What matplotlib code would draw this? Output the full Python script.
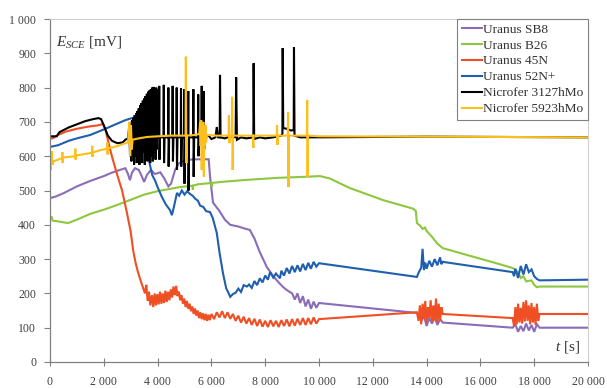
import matplotlib
matplotlib.use("Agg")
import matplotlib.pyplot as plt

plt.rcParams['mathtext.fontset'] = 'custom'
plt.rcParams['mathtext.rm'] = 'Liberation Serif'
plt.rcParams['mathtext.it'] = 'Liberation Serif:italic'
plt.rcParams['font.family'] = ['Liberation Serif', 'DejaVu Serif']

# ---------------- data ----------------
sb8_t = [0, 200, 500, 1000, 1500, 2000, 2300, 2600, 2800, 2900, 2970, 3050, 3160, 3300, 3420, 3500,
         3600, 3750, 3900, 4100, 4250, 4400, 4500, 4650, 4800, 5000, 5200, 5500, 5900, 5950, 6060,
         6300, 6500, 6700, 7000, 7200, 7430, 7600, 7800, 8060, 8300, 8500, 8660, 8800, 9000, 9100,
         9200, 9300, 9400, 9500, 9600, 9700, 9800, 9900, 10000, 13640, 13700, 13800, 13900, 14000,
         14100, 14200, 14300, 14400, 14500, 14600, 17200, 17300, 17400, 17500, 17600, 17700, 17800,
         17900, 18000, 18100, 18200, 20000]
sb8_v = [478, 482, 492, 512, 528, 542, 552, 560, 565, 548, 530, 552, 565, 560, 540, 525,
         545, 560, 548, 553, 535, 512, 520, 560, 580, 588, 590, 591, 591, 540, 465,
         440, 415, 400, 395, 390, 385, 360, 320, 277, 250, 232, 219, 210, 200, 182,
         200, 172, 192, 162, 182, 155, 176, 158, 172, 143, 140, 120, 135, 105,
         128, 112, 130, 108, 125, 115, 100, 110, 88, 105, 90, 112, 92,
         108, 88, 110, 100, 100]

b26_t = [0, 50, 100, 300, 670, 1000, 1500, 2040, 2500, 2970, 3500, 4000, 4830, 5300, 5310, 5320,
         5500, 6000, 6010, 6020, 6500, 7500, 8500, 9500, 10040, 10400, 11150, 12380, 13500, 13600,
         13640, 13750, 13850, 13940, 14000, 14200, 14400, 14600, 15500, 16500, 17200, 17400, 17500,
         17600, 17700, 17900, 18000, 18100, 18200, 20000]
b26_v = [415, 425, 412, 410, 405, 415, 432, 445, 458, 472, 488, 498, 510, 514, 502, 514,
         518, 522, 510, 522, 526, 532, 537, 540, 542, 535, 507, 472, 447, 440,
         405, 398, 388, 392, 382, 365, 345, 332, 312, 290, 274, 262, 245,
         250, 235, 238, 225, 218, 220, 220]

n45_t = [0, 100, 300, 600, 1000, 1410, 1790, 1970, 2050, 2300, 2500, 2680, 2860, 3000, 3090, 3180,
         3270, 3400, 3530, 3580, 3630, 3680, 3730, 3790, 3840, 3890, 3940, 3990, 4040, 4090, 4140,
         4190, 4240, 4290, 4340, 4390, 4440, 4490, 4540, 4590, 4640, 4690, 4740, 4790, 4840, 4890,
         4940, 4990, 5040, 5090, 5140, 5190, 5240, 5290, 5340, 5390, 5440, 5490, 5540, 5590, 5640,
         5690, 5740, 5790, 5840, 5890, 5940, 6000, 6100, 6200, 6300, 6400, 6500, 6600, 6700, 6800,
         6900, 7000, 7100, 7200, 7300, 7400, 7500, 7600, 7700, 7800, 7900, 8000, 8100, 8200, 8300,
         8400, 8500, 8600, 8700, 8800, 8900, 9000, 9100, 9200, 9300, 9400, 9500, 9600, 9700, 9800,
         9900, 10000, 13640, 13700, 13750, 13800, 13850, 13900, 13950, 14000, 14050, 14100, 14150,
         14200, 14250, 14300, 14350, 14400, 14450, 14500, 14550, 14600, 17200, 17250, 17300, 17350,
         17400, 17450, 17500, 17550, 17600, 17650, 17700, 17750, 17800, 17850, 17900, 17950, 18000,
         18050, 18100, 18150, 18200, 20000]
n45_v = [652, 652, 662, 672, 680, 686, 690, 694, 680, 600, 545, 500, 435, 380, 326, 290,
         262, 230, 200, 225, 178, 205, 165, 195, 160, 200, 165, 198, 168, 205, 170,
         200, 172, 208, 175, 205, 180, 212, 188, 220, 195, 222, 192, 205, 180, 195,
         170, 185, 160, 178, 155, 170, 148, 162, 140, 156, 135, 150, 128, 145, 125,
         142, 122, 140, 120, 138, 122, 140, 125, 145, 130, 148, 128, 145, 126, 140,
         120, 135, 115, 132, 112, 128, 108, 126, 105, 124, 103, 120, 102, 122, 104,
         120, 102, 122, 105, 124, 104, 125, 106, 126, 108, 128, 108, 128, 110, 130,
         112, 125, 145, 120, 165, 110, 170, 125, 178, 115, 160, 128, 180,
         118, 165, 122, 185, 115, 170, 120, 160, 140, 128, 105, 160, 110,
         170, 115, 158, 112, 175, 118, 180, 120, 165, 110, 172, 115, 160,
         108, 170, 120, 140, 140]

n52_t = [0, 300, 700, 1000, 1500, 2000, 2500, 2800, 3000, 3230, 3300, 3400, 3500, 3600, 3700, 3800,
         3900, 4000, 4160, 4300, 4460, 4530, 4600, 4720, 4800, 4900, 5000, 5100, 5200, 5300, 5400,
         5500, 5580, 5700, 5800, 5950, 6050, 6200, 6300, 6430, 6550, 6620, 6700, 6800, 6900, 7000,
         7100, 7200, 7320, 7400, 7500, 7600, 7700, 7800, 7900, 8000, 8100, 8180, 8300, 8400, 8550,
         8600, 8700, 8800, 8900, 9000, 9100, 9200, 9300, 9400, 9500, 9600, 9700, 9800, 9900, 10000,
         13640, 13700, 13800, 13850, 13900, 13950, 14000, 14100, 14200, 14300, 14400, 14500, 14550,
         14600, 17200, 17250, 17300, 17400, 17500, 17600, 17700, 17800, 17900, 18000, 18100, 18200,
         20000]
n52_v = [627, 632, 645, 652, 662, 678, 695, 705, 710, 714, 700, 690, 650, 620, 580, 545,
         530, 510, 481, 460, 443, 428, 450, 493, 485, 500, 488, 498, 490, 485, 476,
         470, 456, 452, 440, 437, 420, 376, 320, 259, 215, 204, 190, 198, 202, 214,
         204, 224, 220, 226, 216, 236, 224, 244, 232, 252, 240, 262, 246, 258, 244,
         266, 252, 274, 258, 280, 262, 282, 264, 286, 268, 289, 272, 292, 278, 288,
         248, 260, 275, 330, 268, 290, 272, 295, 278, 300, 282, 305, 285,
         292, 262, 250, 272, 245, 280, 255, 285, 262, 270, 250, 242, 238,
         240]

# Nicrofer 3127hMo
nc31_t = [0, 250, 350, 500, 700, 1000, 1300, 1600, 1800, 1900, 2000, 2150, 2300, 2500, 2700, 2800,
          2900, 2950, 2975, 3000, 3025, 3050, 3075, 3100, 3125, 3150, 3175, 3200, 3225, 3250, 3275,
          3300, 3325, 3350, 3375, 3400, 3425, 3450, 3475, 3500, 3525, 3550, 3575, 3600, 3625, 3650,
          3675, 3700, 3725, 3750, 3775, 3800, 3825, 3850, 3875, 3900, 3925, 3950, 3975, 4000, 4030,
          4050, 4060, 4070, 4090, 4220, 4230, 4240, 4260, 4390, 4400, 4410, 4430, 4550, 4560, 4570,
          4590, 4700, 4710, 4720, 4740, 4860, 4870, 4880, 4900, 4980, 4990, 5000, 5020, 5130, 5140,
          5150, 5170, 5320, 5330, 5340, 5360, 5500, 5510, 5520, 5540, 5630, 5640, 5650, 5670, 5710,
          5720, 5730, 5750, 5900, 6000, 6150, 6200, 6250, 6310, 6320, 6340, 6500, 6700, 6900, 6920,
          6950, 7100, 7300, 7560, 7570, 7590, 7800, 8000, 8300, 8600, 8640, 8650, 8670, 8800, 8950,
          9060, 9070, 9090, 9300, 9600, 10000, 14000, 20000]
nc31_v = [658, 658, 670, 676, 684, 693, 702, 708, 711, 708, 690, 660, 645, 638, 640, 648,
          652, 690, 600, 700, 585, 705, 610, 712, 575, 720, 600, 725, 580, 732, 605,
          740, 575, 748, 595, 755, 580, 762, 610, 768, 575, 775, 600, 782, 585, 788,
          605, 792, 580, 796, 600, 800, 585, 802, 610, 798, 590, 800, 620, 795, 655,
          655, 805, 590, 655, 655, 808, 580, 655, 655, 800, 570, 655, 655, 805, 585,
          655, 655, 800, 560, 655, 655, 798, 570, 655, 655, 795, 520, 655, 655, 790,
          500, 655, 655, 795, 540, 655, 655, 780, 600, 655, 655, 805, 640, 655, 655,
          790, 620, 655, 660, 650, 655, 685, 655, 655, 837, 655, 652, 658, 655, 830,
          648, 655, 652, 655, 871, 650, 655, 652, 655, 660, 665, 915, 682, 680, 675,
          676, 918, 660, 655, 655, 655, 657, 655]

# Nicrofer 5923hMo
nc59_t = [0, 30, 60, 90, 130, 300, 450, 460, 470, 480, 700, 930, 940, 950, 960, 1200, 1560, 1570,
          1580, 1590, 1900, 2120, 2130, 2140, 2150, 2300, 2600, 2800, 2900, 2950, 2980, 3010, 3040,
          3070, 3300, 3600, 4000, 4500, 5040, 5050, 5070, 5090, 5400, 5550, 5580, 5600, 5620, 5640,
          5660, 5680, 5700, 5720, 5740, 5760, 5780, 5800, 5840, 6200, 6640, 6650, 6670, 6690, 6760,
          6770, 6790, 6810, 7540, 7550, 7560, 7570, 8430, 8440, 8455, 8470, 8840, 8850, 8865, 8880,
          9550, 9560, 9575, 9590, 10000, 14000, 20000]
nc59_v = [590, 560, 615, 575, 585, 590, 595, 612, 580, 596, 598, 600, 622, 590, 602, 605, 610, 630,
          598, 611, 618, 622, 640, 605, 623, 625, 632, 638, 640, 700, 600, 690, 620,
          648, 652, 656, 658, 660, 660, 890, 580, 660, 662, 665, 700, 630, 705, 560,
          690, 620, 700, 540, 680, 630, 690, 640, 662, 660, 660, 720, 638, 660, 660,
          773, 560, 660, 660, 640, 624, 660, 660, 691, 633, 660, 660, 729, 510, 660,
          660, 764, 540, 660, 658, 657, 655]

names = ["Uranus SB8", "Uranus B26", "Uranus 45N", "Uranus 52N+", "Nicrofer 3127hMo", "Nicrofer 5923hMo"]
colors = ["#8a6cb8", "#8dc63f", "#f04e23", "#1f5fae", "#000000", "#fdbf1e"]
series = [(sb8_t, sb8_v), (b26_t, b26_v), (n45_t, n45_v), (n52_t, n52_v),
          (nc31_t, nc31_v), (nc59_t, nc59_v)]

x_ticks = list(range(0, 20001, 2000))
x_labels = ["0", "2 000", "4 000", "6 000", "8 000", "10 000", "12 000", "14 000", "16 000", "18 000", "20 000"]
y_ticks = list(range(0, 1001, 100))
y_labels = ["0", "100", "200", "300", "400", "500", "600", "700", "800", "900", "1 000"]

# ---------------- plot ----------------
fig = plt.figure(figsize=(6.07, 3.88), dpi=100)
ax = fig.add_axes([50 / 607, 26 / 388, 538 / 607, 343 / 388])

for (t, v), c, n in zip(series, colors, names):
    ax.plot(t, v, color=c, lw=1.5, label=n, solid_joinstyle='miter')

ax.set_xlim(0, 20000)
ax.set_ylim(0, 1000)
ax.set_xticks(x_ticks)
ax.set_xticklabels(x_labels)
ax.set_yticks(y_ticks)
ax.set_yticklabels(y_labels)

tc = "#404040"
ax.tick_params(axis='x', direction='inout', length=6, width=0.8, color='#808080',
               labelsize=8.5, labelcolor=tc, pad=7)
ax.tick_params(axis='y', direction='out', length=4, width=0.8, color='#808080',
               labelsize=8.5, labelcolor=tc, pad=6)
for s in ['left', 'bottom']:
    ax.spines[s].set_color('#808080')
    ax.spines[s].set_linewidth(0.9)
for s in ['top', 'right']:
    ax.spines[s].set_color('#d0d0d0')
    ax.spines[s].set_linewidth(0.8)

ax.text(0.011, 0.955, r'$E_{SCE}$ [mV]', transform=ax.transAxes, fontsize=11,
        color='#333333', va='top', ha='left')
ax.text(0.985, 0.02, r'$t$ [s]', transform=ax.transAxes, fontsize=11,
        color='#333333', va='bottom', ha='right')

leg = ax.legend(loc='upper right', borderaxespad=0, fontsize=9.6, frameon=True,
                fancybox=False, framealpha=1, edgecolor='#808080', handlelength=1.55,
                handletextpad=0.08, labelspacing=0.27, borderpad=0.32)
leg.get_frame().set_linewidth(0.8)
for txt in leg.get_texts():
    txt.set_color('#333333')

fig.savefig("out.png", dpi=100)
